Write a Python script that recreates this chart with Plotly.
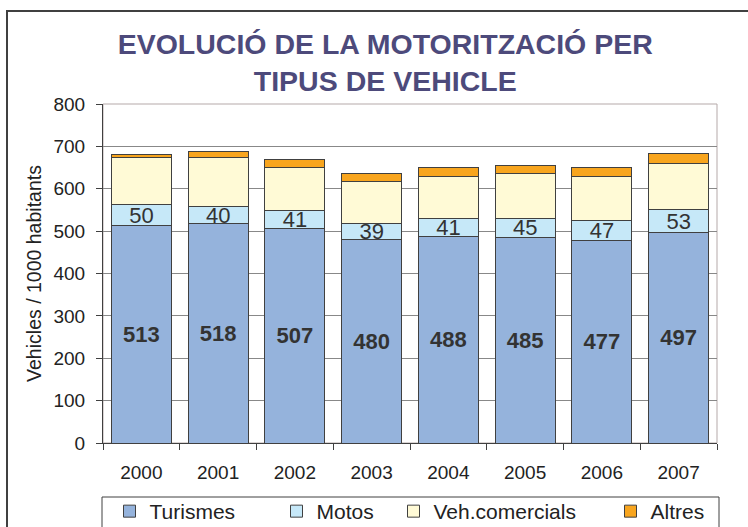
import plotly.graph_objects as go

years = ["2000", "2001", "2002", "2003", "2004", "2005", "2006", "2007"]
turismes = [513, 518, 507, 480, 488, 485, 477, 497]
motos = [50, 40, 41, 39, 41, 45, 47, 53]
veh_comercials = [110, 115, 103, 98, 101, 105, 104, 109]
altres = [8, 16, 19, 20, 21, 20, 23, 25]

series_names = ["Turismes", "Motos", "Veh.comercials", "Altres"]
series_colors = ["#95B3DC", "#C6E8F8", "#FFFAD6", "#F8A51E"]

FONT = "Liberation Sans, Arial, sans-serif"
W, H = 748, 527
L, R, T, B = 103, 31, 104, 84
PW, PH = W - L - R, H - T - B


def px_x(x):
    return (x - L) / PW


def px_y(y):
    return (H - B - y) / PH


fig = go.Figure()
values = [turismes, motos, veh_comercials, altres]
legend_ids = ["legend", "legend2", "legend3", "legend4"]
for i, (name, vals, col) in enumerate(zip(series_names, values, series_colors)):
    if i == 0:
        kw = dict(text=vals, texttemplate="<b>%{text}</b>", textposition="inside",
                  insidetextanchor="middle", textangle=0, constraintext="none",
                  textfont=dict(family=FONT, size=22, color="#333333"))
    elif i == 1:
        kw = dict(text=vals, texttemplate="%{text}", textposition="inside",
                  insidetextanchor="middle", textangle=0, constraintext="none",
                  textfont=dict(family=FONT, size=22, color="#333333"))
    else:
        kw = dict(textposition="none")
    fig.add_trace(go.Bar(
        x=years, y=vals, name=name,
        marker=dict(color=col, line=dict(color="#404040", width=1)),
        legend=legend_ids[i], hoverinfo="skip", **kw))

# legend item start positions (px)
legend_x = [109.5, 276.5, 393.5, 610.5]
legend_y = 491
layout_legends = {}
for i, lid in enumerate(legend_ids):
    layout_legends[lid] = dict(
        x=px_x(legend_x[i]), y=px_y(legend_y), xanchor="left", yanchor="top",
        orientation="h", bgcolor="rgba(0,0,0,0)", borderwidth=0,
        font=dict(family=FONT, size=21, color="#222222"),
        itemclick=False, itemdoubleclick=False)

shapes = [
    # outer frame
    dict(type="rect", xref="paper", yref="paper",
         x0=px_x(7), x1=px_x(770), y0=px_y(560), y1=px_y(11),
         line=dict(color="#404040", width=2), fillcolor="rgba(0,0,0,0)", layer="above"),
    # plot area border (top/right)
    dict(type="rect", xref="paper", yref="paper", x0=0, x1=1, y0=0, y1=1,
         line=dict(color="#B5A9A9", width=1), fillcolor="rgba(0,0,0,0)", layer="below"),
    # legend box
    dict(type="rect", xref="paper", yref="paper",
         x0=px_x(102), x1=px_x(719), y0=px_y(560), y1=px_y(497),
         line=dict(color="#404040", width=1), fillcolor="rgba(0,0,0,0)", layer="above"),
]

fig.update_layout(
    width=W, height=H,
    margin=dict(l=L, r=R, t=T, b=B, autoexpand=False),
    paper_bgcolor="white", plot_bgcolor="white",
    barmode="stack", bargap=0.22,
    showlegend=True,
    title=dict(text="<b>EVOLUCIÓ DE LA MOTORITZACIÓ PER<br>TIPUS DE VEHICLE</b>",
               font=dict(family=FONT, size=28.5, color="#4D4A7B"),
               x=0.515, xanchor="center", y=1 - 54 / H, yanchor="middle", yref="container"),
    xaxis=dict(type="category", tickson="boundaries", ticks="outside", ticklen=6,
               tickcolor="#404040", showline=True, linecolor="#404040", linewidth=1,
               showgrid=False, ticklabelstandoff=12,
               tickfont=dict(family=FONT, size=19, color="#222222")),
    yaxis=dict(range=[0, 800], dtick=100, ticks="outside", ticklen=6, tickcolor="#404040",
               showline=True, linecolor="#404040", linewidth=1,
               showgrid=True, gridcolor="#888888", gridwidth=1, zeroline=False,
               ticklabelstandoff=7,
               tickfont=dict(family=FONT, size=19, color="#222222")),
    shapes=shapes,
    **layout_legends,
)
fig.update_yaxes(title=dict(text="Vehicles / 1000 habitants", standoff=6,
                            font=dict(family=FONT, size=19.5, color="#222222")))

fig.write_html("out.html", config={"displayModeBar": False},
               post_script="document.body.style.margin='0';document.body.style.overflow='hidden';")
